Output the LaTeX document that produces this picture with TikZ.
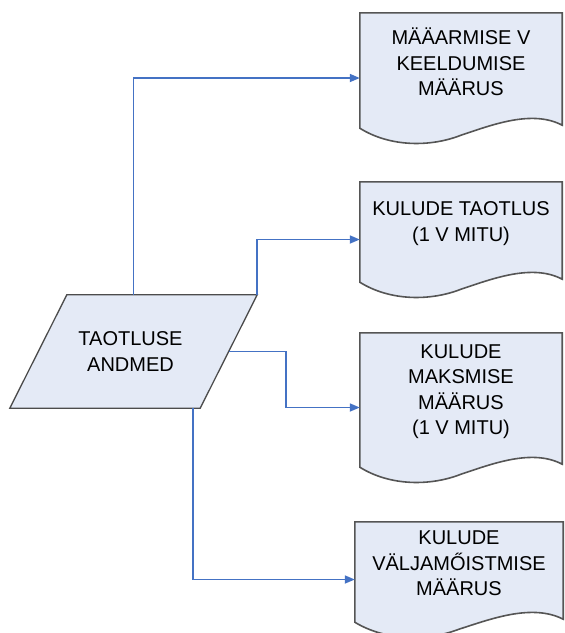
\documentclass[tikz,border=0pt]{standalone}
\usepackage{fontspec}
\setmainfont{Liberation Sans}
\usetikzlibrary{arrows.meta,calc}
\definecolor{boxfill}{HTML}{E4EAF6}
\definecolor{linkcol}{HTML}{4472C4}
\definecolor{edgecol}{HTML}{555555}

\begin{document}
\begin{tikzpicture}[x=1pt,y=-1pt]

% ---------- styles ----------
\tikzset{
  docnode/.style={rectangle, minimum width=202pt, inner sep=0pt},
  doctext/.style={font=\fontsize{20}{25.5}\selectfont, align=center, yshift=16pt},
  datanode/.style={rectangle, minimum width=247pt, minimum height=113pt, inner sep=0pt},
  datatext/.style={font=\fontsize{20}{25.5}\selectfont, align=center},
  link/.style={draw=linkcol, line width=1.7pt, -{Triangle[length=10pt,width=8pt]}}
}

% ---------- document outline ----------
\newcommand{\docoutline}[1]{%
  % #1 = node name
  \draw[draw=edgecol, line width=1.6pt, fill=boxfill]
    ([yshift=15pt]#1.south west) -- (#1.north west) -- (#1.north east)
    -- ([yshift=18pt]#1.south east)
    .. controls ([yshift=34pt]$(#1.south west)!0.85!(#1.south east)$)
           and ([yshift=18pt]$(#1.south west)!0.65!(#1.south east)$)
    .. ([yshift=8pt]$(#1.south west)!0.5!(#1.south east)$)
    .. controls ([yshift=-4pt]$(#1.south west)!0.35!(#1.south east)$)
           and ([yshift=-4pt]$(#1.south west)!0.15!(#1.south east)$)
    .. ([yshift=15pt]#1.south west) -- cycle;
}

\useasboundingbox (0,0) rectangle (565,633);

% ---------- nodes ----------
\node[datanode] (data) at (133.5,351.5) {};
\draw[draw=black!70, line width=1.3pt, fill=boxfill]
  ([xshift=57pt]data.north west) -- (data.north east)
  -- ([xshift=-57pt]data.south east) -- (data.south west) -- cycle;
\node[datatext] at ([xshift=-3pt]data.center) {TAOTLUSE\\ANDMED};

\node[docnode, minimum height=130pt] (mmaarus) at (461,78) {};
\node[docnode, minimum height=115pt] (ktaotlus) at (461,239.5) {};
\node[docnode, minimum height=149pt] (kmaks) at (461,407.5) {};
\node[docnode, minimum width=208pt, minimum height=115pt] (kvalja) at (459,579.5) {};

\docoutline{mmaarus}
\docoutline{ktaotlus}
\docoutline{kmaks}
\docoutline{kvalja}

\node[doctext] at (mmaarus) {MÄÄARMISE V\\KEELDUMISE\\MÄÄRUS};
\node[doctext] at (ktaotlus) {KULUDE TAOTLUS\\(1 V MITU)};
\node[doctext] at (kmaks) {KULUDE\\MAKSMISE\\MÄÄRUS\\(1 V MITU)};
\node[doctext] at (kvalja) {KULUDE\\VÄLJAMŐISTMISE\\MÄÄRUS};

% ---------- connectors ----------
\draw[link] (data.north) |- (mmaarus.west);
\draw[link] (data.north east) |- (ktaotlus.west);
\draw[link] ([xshift=-28.5pt]data.east) -- ++(57,0) |- (kmaks.west);
\draw[link] ([xshift=-64pt]data.south east) |- (kvalja.west);

\end{tikzpicture}
\end{document}
